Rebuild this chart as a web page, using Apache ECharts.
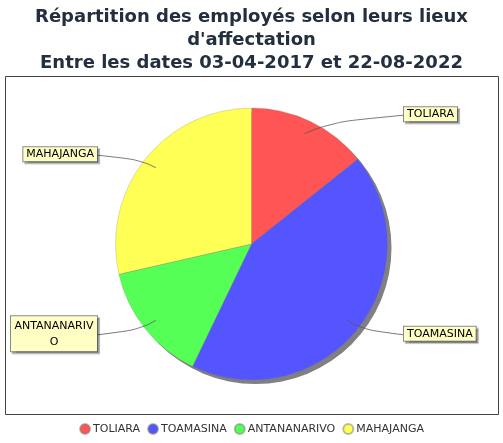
<!DOCTYPE html>
<html>
<head>
<meta charset="utf-8">
<script src="https://cdn.jsdelivr.net/npm/echarts@6/dist/echarts.min.js"></script>
<style>html,body{margin:0;padding:0;background:#fff}#c{width:503px;height:443px}</style>
</head>
<body>
<div id="c"></div>
<script>
const categories = ['TOLIARA', 'TOAMASINA', 'ANTANANARIVO', 'MAHAJANGA'];
const values = [1, 3, 1, 2];
const colors = ['#ff5555', '#5555ff', '#55ff55', '#ffff55'];
const titleText = "Répartition des employés selon leurs lieux\nd'affectation\nEntre les dates 03-04-2017 et 22-08-2022";

const chart = echarts.init(document.getElementById('c'), null, {renderer: 'canvas'});
const total = values.reduce((a, b) => a + b, 0);
const center = [251.5, 244];
const radius = 136;
const rightLabelX = 403;
const leftLabelX = 98;

chart.setOption({
  animation: false,
  backgroundColor: '#ffffff',
  title: {
    text: titleText,
    left: 'center',
    top: 1,
    textStyle: {
      fontFamily: 'DejaVu Sans',
      fontWeight: 'bold',
      fontSize: 18,
      lineHeight: 23,
      color: '#232f3e',
      align: 'center'
    }
  },
  graphic: [{
    type: 'rect',
    z: -10,
    shape: {x: 5.5, y: 76.5, width: 493, height: 338},
    style: {fill: '#ffffff', stroke: '#444444', lineWidth: 1}
  }],
  legend: {
    bottom: 3,
    left: 'center',
    icon: 'circle',
    itemWidth: 10,
    itemHeight: 10,
    itemGap: 7,
    textStyle: {fontFamily: 'DejaVu Sans', fontSize: 11, color: '#333333', padding: [0, 0, 0, -2]},
    data: categories
  },
  series: [
    {
      type: 'pie',
      silent: true,
      z: 1,
      center: [center[0] + 4, center[1] + 4],
      radius: radius,
      label: {show: false},
      labelLine: {show: false},
      itemStyle: {color: '#808080'},
      data: [{name: '_shadow', value: total}],
      legendHoverLink: false
    },
    {
      type: 'pie',
      z: 2,
      center: center,
      radius: radius,
      startAngle: 90,
      clockwise: true,
      itemStyle: {borderColor: 'rgba(120,120,120,0.5)', borderWidth: 0.5},
      label: {show: false},
      labelLine: {show: false},
      data: categories.map((n, i) => ({name: n, value: values[i], itemStyle: {color: colors[i]}}))
    },
    {
      type: 'pie',
      z: 3,
      silent: true,
      center: center,
      radius: radius,
      startAngle: 90,
      clockwise: true,
      avoidLabelOverlap: false,
      itemStyle: {color: 'rgba(0,0,0,0)', borderWidth: 0},
      label: {
        show: true,
        position: 'outside',
        fontFamily: 'DejaVu Sans',
        fontSize: 11,
        color: '#000000',
        backgroundColor: '#ffffc4',
        borderColor: '#8a8a8a',
        borderWidth: 1,
        padding: [2, 3, 1, 3],
        shadowColor: 'rgba(0,0,0,0.3)',
        shadowOffsetX: 2,
        shadowOffsetY: 2,
        shadowBlur: 1
      },
      labelLine: {
        show: true,
        showAbove: true,
        length: 8,
        length2: 20,
        smooth: 0.5,
        lineStyle: {color: '#555555', width: 0.8}
      },
      labelLayout: function (p) {
        const pts = p.labelLinePoints;
        const r = p.labelRect;
        const cy = r.y + r.height / 2;
        const isRight = (r.x + r.width / 2) > center[0];
        const edgeX = isRight ? rightLabelX : leftLabelX;
        const res = {
          x: isRight ? edgeX + r.width / 2 : edgeX - r.width / 2,
          y: cy,
          align: 'center',
          verticalAlign: 'middle'
        };
        if (pts) {
          const p0 = pts[0];
          const vx = p0[0] - center[0], vy = p0[1] - center[1];
          const start = [center[0] + vx * 0.9, center[1] + vy * 0.9];
          const end = [edgeX, cy + 1];
          const mid = [start[0] + 0.27 * (end[0] - start[0]), start[1] + 0.62 * (end[1] - start[1])];
          res.labelLinePoints = [start, mid, end];
        }
        return res;
      },
      data: categories.map((n, i) => {
        const d = {name: n, value: values[i]};
        if (n === 'ANTANANARIVO') {
          d.label = {width: 80, overflow: 'break', lineHeight: 16};
        }
        return d;
      })
    }
  ]
});
</script>
</body>
</html>
